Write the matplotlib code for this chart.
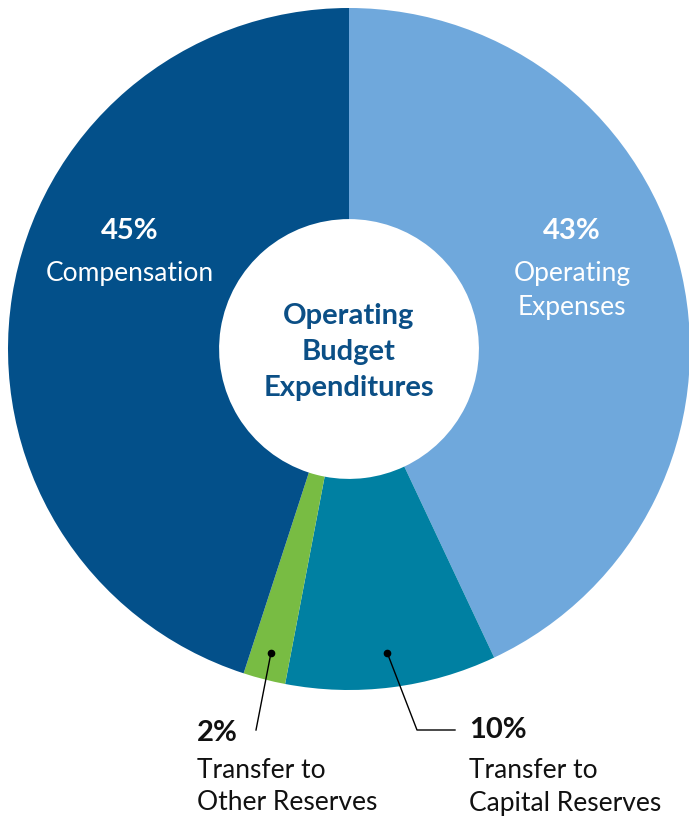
import numpy as np
import matplotlib
matplotlib.use("Agg")
import matplotlib.pyplot as plt

plt.rcParams['font.family'] = ['Lato', 'DejaVu Sans']

categories = ["Operating Expenses", "Transfer to Capital Reserves",
              "Transfer to Other Reserves", "Compensation"]
values = [43, 10, 2, 45]
colors = ["#6FA8DC", "#0080A2", "#78BC43", "#03508A"]

W, H = 689, 816
fig = plt.figure(figsize=(W / 100, H / 100), dpi=100)
cx, cy, R = 349, 349, 341
ax = fig.add_axes([(cx - R) / W, (H - cy - R) / H, 2 * R / W, 2 * R / H])

wedges, _ = ax.pie(values, colors=colors, startangle=90, counterclock=False,
                   radius=1, wedgeprops=dict(width=0.619, edgecolor='none'))
ax.set_xlim(-1, 1)
ax.set_ylim(-1, 1)
ax.set_aspect('equal')
ax.axis('off')


def px(x, y):
    return (x - cx) / R, (cy - y) / R


def mid_angle(i):
    w = wedges[i]
    return np.deg2rad((w.theta1 + w.theta2) / 2)

BIG = 21
SMALL = 19

# center title
for txt, y in [("Operating", 316), ("Budget", 352), ("Expenditures", 388)]:
    ax.text(*px(349, y), txt, ha='center', va='center', fontsize=BIG,
            fontweight='bold', color='#0B4F86')

# inner labels
for (pct, lines, x) in [("45%", ["Compensation"], 130),
                        ("43%", ["Operating", "Expenses"], 572)]:
    ax.text(*px(x, 231), pct, ha='center', va='center', fontsize=BIG,
            fontweight='bold', color='white')
    for j, ln in enumerate(lines):
        ax.text(*px(x, 273 + 34 * j), ln, ha='center', va='center',
                fontsize=SMALL, color='white')

# outer labels with leader lines
# Capital reserves (index 1)
a = mid_angle(1)
r = 0.9
dx, dy = r * np.cos(a), r * np.sin(a)
ax.plot([dx], [dy], 'o', color='black', ms=4.5, clip_on=False)
p1 = px(417, 730)
p2 = px(455, 730)
ax.plot([dx, p1[0], p2[0]], [dy, p1[1], p2[1]], color='black', lw=1,
        clip_on=False)
# Other reserves (index 2)
a = mid_angle(2)
r = 0.92
gx, gy = r * np.cos(a), r * np.sin(a)
ax.plot([gx], [gy], 'o', color='black', ms=4.5, clip_on=False)
q1 = px(256, 730)
ax.plot([gx, q1[0]], [gy, q1[1]], color='black', lw=1, clip_on=False)

for (pct, lines, x, y0) in [("2%", ["Transfer to", "Other Reserves"], 197, 733),
                            ("10%", ["Transfer to", "Capital Reserves"], 469, 730)]:
    ax.text(*px(x, y0), pct, ha='left', va='center', fontsize=BIG,
            fontweight='bold', color='#111111', clip_on=False)
    for j, ln in enumerate(lines):
        ax.text(*px(x, 771 + 32 * j), ln, ha='left', va='center',
                fontsize=SMALL, color='#111111', clip_on=False)

fig.savefig("out.png", dpi=100)
